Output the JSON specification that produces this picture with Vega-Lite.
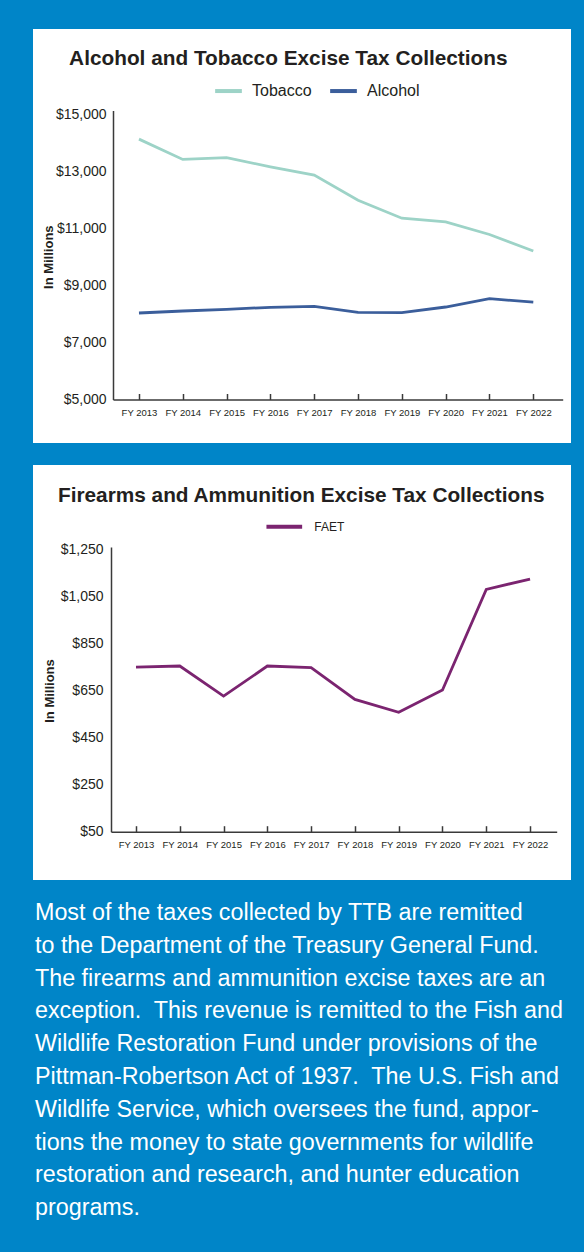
{
  "$schema": "https://vega.github.io/schema/vega-lite/v6.json",
  "background": "#0085c8",
  "padding": {"left": 33, "top": 29, "right": 13, "bottom": 33},
  "config": {
    "view": {"fill": "white", "stroke": null},
    "font": "Liberation Sans",
    "axis": {"labelColor": "#231f20", "titleColor": "#231f20", "domainColor": "#3a3a3a", "tickColor": "#3a3a3a", "grid": false},
    "legend": {"padding": 0}
  },
  "resolve": {"scale": {"color": "independent"}, "legend": {"color": "independent"}},
  "datasets": {
    "alctob": [
      {"FY": "FY 2013", "series": "Tobacco", "value": 14120},
      {"FY": "FY 2014", "series": "Tobacco", "value": 13410},
      {"FY": "FY 2015", "series": "Tobacco", "value": 13470},
      {"FY": "FY 2016", "series": "Tobacco", "value": 13150},
      {"FY": "FY 2017", "series": "Tobacco", "value": 12860},
      {"FY": "FY 2018", "series": "Tobacco", "value": 11980},
      {"FY": "FY 2019", "series": "Tobacco", "value": 11350},
      {"FY": "FY 2020", "series": "Tobacco", "value": 11220},
      {"FY": "FY 2021", "series": "Tobacco", "value": 10780},
      {"FY": "FY 2022", "series": "Tobacco", "value": 10200},
      {"FY": "FY 2013", "series": "Alcohol", "value": 8030},
      {"FY": "FY 2014", "series": "Alcohol", "value": 8100},
      {"FY": "FY 2015", "series": "Alcohol", "value": 8160},
      {"FY": "FY 2016", "series": "Alcohol", "value": 8230},
      {"FY": "FY 2017", "series": "Alcohol", "value": 8260},
      {"FY": "FY 2018", "series": "Alcohol", "value": 8050},
      {"FY": "FY 2019", "series": "Alcohol", "value": 8040},
      {"FY": "FY 2020", "series": "Alcohol", "value": 8240},
      {"FY": "FY 2021", "series": "Alcohol", "value": 8530},
      {"FY": "FY 2022", "series": "Alcohol", "value": 8410}
    ],
    "faet": [
      {"FY": "FY 2013", "series": "FAET", "value": 750},
      {"FY": "FY 2014", "series": "FAET", "value": 755},
      {"FY": "FY 2015", "series": "FAET", "value": 627},
      {"FY": "FY 2016", "series": "FAET", "value": 755},
      {"FY": "FY 2017", "series": "FAET", "value": 748},
      {"FY": "FY 2018", "series": "FAET", "value": 613},
      {"FY": "FY 2019", "series": "FAET", "value": 558},
      {"FY": "FY 2020", "series": "FAET", "value": 653},
      {"FY": "FY 2021", "series": "FAET", "value": 1081},
      {"FY": "FY 2022", "series": "FAET", "value": 1125}
    ]
  },
  "title": {
    "text": [
      "Most of the taxes collected by TTB are remitted",
      "to the Department of the Treasury General Fund.",
      "The firearms and ammunition excise taxes are an",
      "exception.\u00a0 This revenue is remitted to the Fish and",
      "Wildlife Restoration Fund under provisions of the",
      "Pittman-Robertson Act of 1937.\u00a0 The U.S. Fish and",
      "Wildlife Service, which oversees the fund, appor-",
      "tions the money to state governments for wildlife",
      "restoration and research, and hunter education",
      "programs."
    ],
    "orient": "bottom",
    "anchor": "start",
    "frame": "group",
    "font": "Liberation Sans",
    "fontSize": 23.3,
    "fontWeight": "normal",
    "color": "white",
    "lineHeight": 32.8,
    "baseline": "alphabetic",
    "offset": 40,
    "dx": 2
  },
  "spacing": 22,
  "vconcat": [
    {
      "width": 538,
      "height": 414,
      "title": {
        "text": "Alcohol and Tobacco Excise Tax Collections",
        "font": "Liberation Sans",
        "fontSize": 20.8,
        "fontWeight": "bold",
        "color": "#231f20",
        "anchor": "middle",
        "baseline": "alphabetic",
        "offset": -56.8,
        "dx": -13.7
      },
      "data": {"name": "alctob"},
      "mark": {"type": "line", "strokeWidth": 2.8},
      "encoding": {
        "x": {
          "field": "FY",
          "type": "ordinal",
          "scale": {"type": "point", "range": [80, 529.7], "padding": 0.632, "align": 0.469},
          "axis": {
            "title": null,
            "orient": "bottom",
            "offset": -43.5,
            "domain": true,
            "domainWidth": 1.5,
            "ticks": true,
            "tickSize": -6,
            "tickWidth": 1.5,
            "labelPadding": 14,
            "labelFont": "Liberation Sans",
            "labelFontSize": 9.5,
            "labelAngle": 0
          }
        },
        "y": {
          "field": "value",
          "type": "quantitative",
          "scale": {"domain": [5000, 15123], "range": [370.5, 81.5], "nice": false, "zero": false},
          "axis": {
            "title": "In Millions",
            "offset": -80,
            "values": [5000, 7000, 9000, 11000, 13000, 15000],
            "format": "$,.0f",
            "ticks": false,
            "domain": true,
            "domainWidth": 1.5,
            "labelPadding": 7,
            "labelFont": "Liberation Sans",
            "labelFontSize": 14,
            "titleFont": "Liberation Sans",
            "titleFontSize": 13,
            "titleFontWeight": "bold",
            "titleX": -65,
            "titleY": 227.7,
            "titleAngle": -90,
            "titleBaseline": "middle",
            "titleAlign": "center"
          }
        },
        "color": {
          "field": "series",
          "type": "nominal",
          "scale": {"domain": ["Tobacco", "Alcohol"], "range": ["#9dd3c7", "#3b5e9b"]},
          "legend": {
            "title": null,
            "orient": "none",
            "direction": "horizontal",
            "legendX": 180,
            "legendY": 46.3,
            "symbolType": "stroke",
            "symbolSize": 713,
            "symbolStrokeWidth": 4,
            "labelFont": "Liberation Sans",
            "labelFontSize": 16,
            "labelColor": "#231f20",
            "labelOffset": 8,
            "columnPadding": 10
          }
        }
      }
    },
    {
      "width": 538,
      "height": 415,
      "title": {
        "text": "Firearms and Ammunition Excise Tax Collections",
        "font": "Liberation Sans",
        "fontSize": 20.8,
        "fontWeight": "bold",
        "color": "#231f20",
        "anchor": "middle",
        "baseline": "alphabetic",
        "offset": -57.5,
        "dx": -0.8
      },
      "data": {"name": "faet"},
      "mark": {"type": "line", "strokeWidth": 2.8},
      "encoding": {
        "x": {
          "field": "FY",
          "type": "ordinal",
          "scale": {"type": "point", "range": [78, 523.7], "padding": 0.59, "align": 0.484},
          "axis": {
            "title": null,
            "orient": "bottom",
            "offset": -48.3,
            "domain": true,
            "domainWidth": 1.5,
            "ticks": true,
            "tickSize": -6,
            "tickWidth": 1.5,
            "labelPadding": 14,
            "labelFont": "Liberation Sans",
            "labelFontSize": 9.5,
            "labelAngle": 0
          }
        },
        "y": {
          "field": "value",
          "type": "quantitative",
          "scale": {"domain": [50, 1261.5], "range": [366.7, 82], "nice": false, "zero": false},
          "axis": {
            "title": "In Millions",
            "offset": -78,
            "values": [50, 250, 450, 650, 850, 1050, 1250],
            "format": "$,.0f",
            "ticks": false,
            "domain": true,
            "domainWidth": 1.5,
            "labelPadding": 8,
            "labelFont": "Liberation Sans",
            "labelFontSize": 14,
            "titleFont": "Liberation Sans",
            "titleFontSize": 13,
            "titleFontWeight": "bold",
            "titleX": -62,
            "titleY": 225.5,
            "titleAngle": -90,
            "titleBaseline": "middle",
            "titleAlign": "center"
          }
        },
        "color": {
          "field": "series",
          "type": "nominal",
          "scale": {"domain": ["FAET"], "range": ["#7b2470"]},
          "legend": {
            "title": null,
            "orient": "none",
            "direction": "horizontal",
            "legendX": 231.3,
            "legendY": 41.8,
            "symbolType": "stroke",
            "symbolSize": 1274,
            "symbolStrokeWidth": 4,
            "labelFont": "Liberation Sans",
            "labelFontSize": 12,
            "labelColor": "#231f20",
            "labelOffset": 10
          }
        }
      }
    }
  ]
}
